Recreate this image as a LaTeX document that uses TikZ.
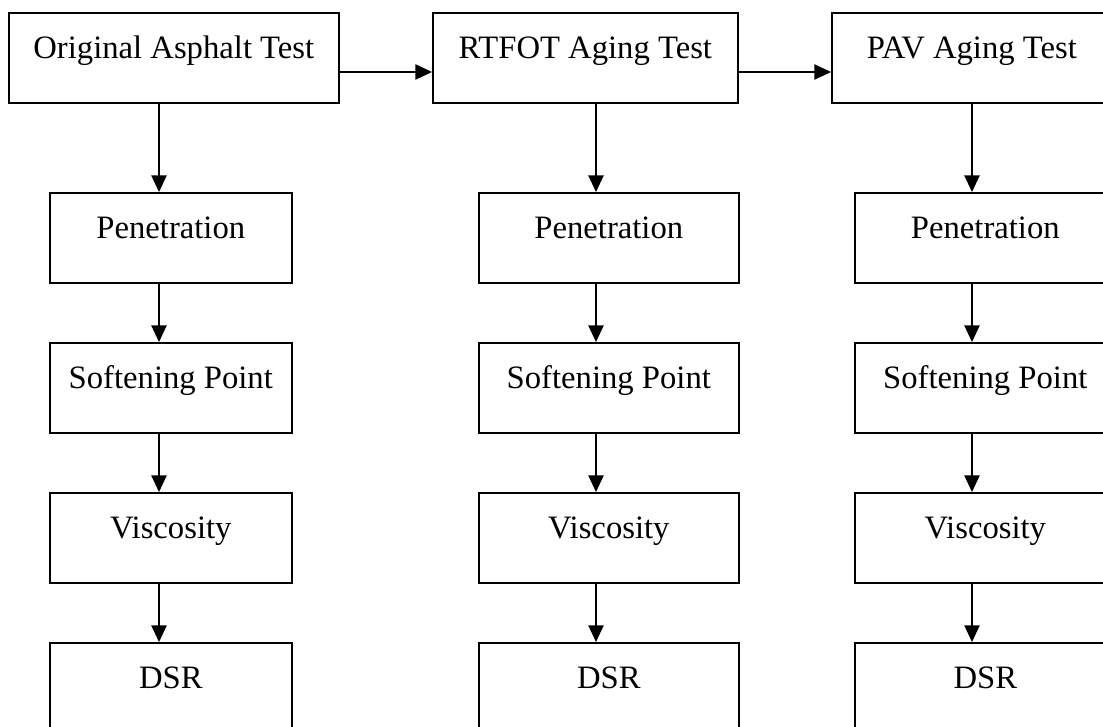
\documentclass[tikz,border=0pt]{standalone}
\usepackage{fontspec}
\setmainfont{Liberation Serif}
\usetikzlibrary{positioning,arrows.meta}
\tikzset{
  testbox/.style={draw,line width=1.2pt,anchor=north west,inner sep=0pt,
    minimum width=#1,text height=34.5pt,text depth=33pt,align=center,
    font=\fontsize{24.5}{29}\selectfont},
  flow/.style={-{Triangle[length=12.5pt,width=11.5pt]},line width=1.1pt},
}

\begin{document}
\begin{tikzpicture}[x=0.75pt,y=-0.75pt]
  \useasboundingbox (0,0) rectangle (1103,727);
  \clip (0,0) rectangle (1103,727);
  % top row
  \node[testbox=247.5pt] (top1) at (8,12) {Original Asphalt Test};
  \node[testbox=228.75pt] (top2) at (432,12) {RTFOT Aging Test};
  \node[testbox=210pt] (top3) at (831,12) {PAV Aging Test};
  \coordinate (ay) at (0,72);
  \draw[flow] (top1.east |- ay) -- (top2.west |- ay);
  \draw[flow] (top2.east |- ay) -- (top3.west |- ay);
  % the three test columns
  \foreach \c/\xl/\w/\xa in {1/49/181.5pt/159, 2/478/195pt/596, 3/854/195.75pt/972} {
    \coordinate (ax\c) at (\xa,0);
    \node[testbox=\w] (pen\c) at (\xl,192) {Penetration};
    \node[testbox=\w] (soft\c) at (\xl,342) {Softening Point};
    \node[testbox=\w] (visc\c) at (\xl,492) {Viscosity};
    \node[testbox=\w] (dsr\c) at (\xl,642) {DSR};
    \draw[flow] (top\c.south -| ax\c) -- (pen\c.north -| ax\c);
    \draw[flow] (pen\c.south -| ax\c) -- (soft\c.north -| ax\c);
    \draw[flow] (soft\c.south -| ax\c) -- (visc\c.north -| ax\c);
    \draw[flow] (visc\c.south -| ax\c) -- (dsr\c.north -| ax\c);
  }
\end{tikzpicture}
\end{document}
